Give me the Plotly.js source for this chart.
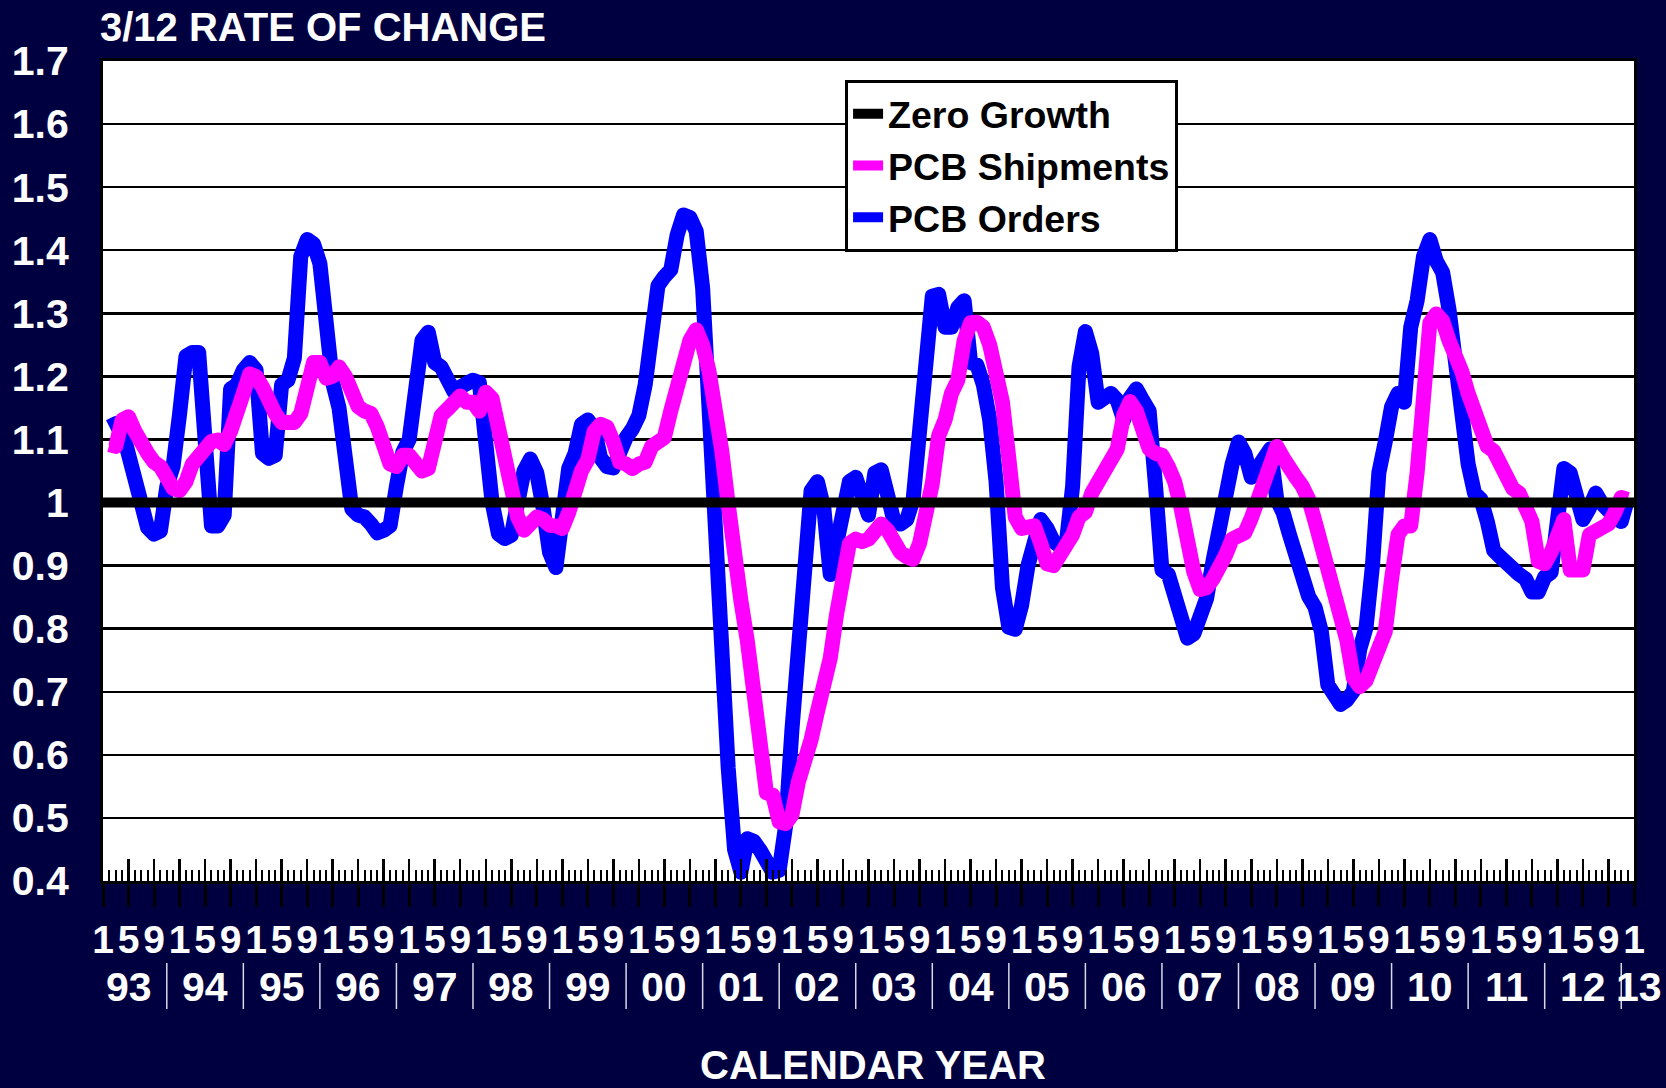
<!DOCTYPE html>
<html>
<head>
<meta charset="utf-8">
<script src="https://cdn.plot.ly/plotly-3.0.1.min.js"></script>
<style>
html, body { margin: 0; padding: 0; background: #000040; }
#chart { width: 1666px; height: 1088px; }
.scatterlayer .js-line { stroke-linejoin: round !important; }
</style>
</head>
<body>
<div id="chart"></div>
<script>
// Months are counted from January 1993 (= 0); the axis runs to January 2013 (= 240).
const FIRST_MONTH = 1;          // first data point: Feb 1993
const AXIS_END_MONTH = 240;     // Jan 2013
const MONTH_TICK_LABELS = ["1", "5", "9"];
const YEAR_LABELS = ["93","94","95","96","97","98","99","00","01","02","03","04","05","06","07","08","09","10","11","12","13"];
const Y_TICK_VALUES = [0.4, 0.5, 0.6, 0.7, 0.8, 0.9, 1.0, 1.1, 1.2, 1.3, 1.4, 1.5, 1.6, 1.7];
const Y_TICK_LABELS = ["0.4","0.5","0.6","0.7","0.8","0.9","1","1.1","1.2","1.3","1.4","1.5","1.6","1.7"];
const ZERO_GROWTH = 1;

const PCB_ORDERS = [
  1.12, 1.125, 1.115, 1.08, 1.04, 1.01, 0.96, 0.95, 0.955, 1.025, 1.058, 1.14,
  1.232, 1.238, 1.238, 1.10, 0.963, 0.963, 0.98, 1.18, 1.187, 1.21, 1.222, 1.21,
  1.078, 1.07, 1.075, 1.187, 1.194, 1.229, 1.39, 1.417, 1.41, 1.379, 1.27, 1.19,
  1.15, 1.07, 0.99, 0.98, 0.977, 0.966, 0.952, 0.956, 0.963, 1.026, 1.08, 1.10,
  1.20, 1.257, 1.27, 1.222, 1.215, 1.187, 1.176, 1.183, 1.187, 1.194, 1.19, 1.08,
  1.00, 0.95, 0.943, 0.948, 0.998, 1.05, 1.069, 1.047, 0.991, 0.921, 0.897, 0.99,
  1.054, 1.078, 1.124, 1.131, 1.117, 1.071, 1.057, 1.055, 1.089, 1.103, 1.117, 1.138,
  1.187, 1.292, 1.344, 1.358, 1.369, 1.424, 1.456, 1.452, 1.43, 1.34, 1.12, 0.90,
  0.74, 0.58, 0.45, 0.414, 0.467, 0.463, 0.449, 0.432, 0.414, 0.417, 0.487, 0.64,
  0.78, 0.956, 1.019, 1.033, 0.991, 0.886, 0.935, 0.991, 1.033, 1.04, 0.998, 0.98,
  1.047, 1.052, 1.012, 0.97, 0.966, 0.973, 1.005, 1.117, 1.278, 1.327, 1.33, 1.278,
  1.278, 1.309, 1.32, 1.222, 1.218, 1.187, 1.131, 1.033, 0.865, 0.802, 0.799, 0.837,
  0.90, 0.949, 0.973, 0.959, 0.938, 0.931, 0.935, 1.026, 1.215, 1.271, 1.236, 1.159,
  1.169, 1.173, 1.162, 1.131, 1.166, 1.18, 1.162, 1.145, 1.026, 0.893, 0.886, 0.844,
  0.809, 0.785, 0.792, 0.816, 0.848, 0.907, 0.963, 1.019, 1.061, 1.096, 1.078, 1.04,
  1.055, 1.08, 1.085, 1.005, 0.984, 0.949, 0.914, 0.879, 0.851, 0.834, 0.795, 0.711,
  0.69, 0.68, 0.687, 0.701, 0.767, 0.802, 0.90, 1.047, 1.096, 1.152, 1.173, 1.159,
  1.278, 1.32, 1.39, 1.417, 1.383, 1.365, 1.306, 1.215, 1.138, 1.061, 1.015, 1.005,
  0.97, 0.924, 0.914, 0.903, 0.90, 0.886, 0.879, 0.858, 0.858, 0.882, 0.889, 0.991,
  1.054, 1.047, 0.998, 0.973, 0.991, 1.015, 0.998, 0.984, 0.977, 0.97, 1.005
];

const PCB_SHIPMENTS = [
  1.092, 1.089, 1.131, 1.136, 1.113, 1.089, 1.078, 1.064, 1.057, 1.04, 1.022, 1.019,
  1.033, 1.061, 1.071, 1.089, 1.097, 1.099, 1.092, 1.113, 1.138, 1.173, 1.204, 1.2,
  1.183, 1.155, 1.141, 1.127, 1.124, 1.127, 1.141, 1.18, 1.222, 1.222, 1.197, 1.2,
  1.215, 1.2, 1.173, 1.152, 1.145, 1.141, 1.12, 1.085, 1.061, 1.057, 1.075, 1.075,
  1.061, 1.05, 1.054, 1.103, 1.138, 1.148, 1.155, 1.169, 1.159, 1.159, 1.145, 1.175,
  1.165, 1.11, 1.061, 1.012, 0.977, 0.956, 0.963, 0.977, 0.973, 0.964, 0.963, 0.959,
  0.984, 1.022, 1.05, 1.068, 1.113, 1.124, 1.12, 1.096, 1.064, 1.061, 1.054, 1.061,
  1.064, 1.089, 1.094, 1.103, 1.145, 1.187, 1.236, 1.257, 1.274, 1.25, 1.208, 1.152,
  1.082, 0.998, 0.907, 0.844, 0.781, 0.69, 0.6, 0.54, 0.536, 0.494, 0.491, 0.505,
  0.557, 0.585, 0.624, 0.669, 0.704, 0.753, 0.823, 0.893, 0.935, 0.942, 0.938, 0.942,
  0.955, 0.966, 0.956, 0.931, 0.921, 0.914, 0.91, 0.935, 0.975, 1.03, 1.106, 1.131,
  1.173, 1.194, 1.257, 1.285, 1.286, 1.278, 1.25, 1.208, 1.159, 1.07, 0.977, 0.959,
  0.959, 0.963, 0.935, 0.903, 0.9, 0.917, 0.931, 0.949, 0.977, 0.985, 1.015, 1.033,
  1.061, 1.075, 1.085, 1.138, 1.16, 1.145, 1.11, 1.085, 1.078, 1.075, 1.057, 1.033,
  0.991, 0.935, 0.89, 0.862, 0.865, 0.879, 0.893, 0.917, 0.942, 0.948, 0.952, 0.975,
  1.00, 1.03, 1.061, 1.089, 1.071, 1.05, 1.04, 1.026, 1.005, 0.97, 0.935, 0.9,
  0.858, 0.809, 0.781, 0.722, 0.708, 0.718, 0.746, 0.764, 0.795, 0.879, 0.949, 0.963,
  0.963, 1.047, 1.152, 1.285, 1.299, 1.288, 1.257, 1.236, 1.208, 1.173, 1.138, 1.103,
  1.089, 1.082, 1.061, 1.04, 1.022, 1.015, 0.991, 0.97, 0.907, 0.903, 0.921, 0.956,
  0.973, 0.893, 0.89, 0.893, 0.949, 0.956, 0.956, 0.966, 0.984, 1.008, 1.005
];

// ---- derived helpers ----
const months = PCB_ORDERS.map((_, i) => FIRST_MONTH + i);
const monthTickVals = [];
const monthTickText = [];
for (let m = 0, k = 0; m <= AXIS_END_MONTH; m += 4, k++) {
  monthTickVals.push(m);
  monthTickText.push(MONTH_TICK_LABELS[k % MONTH_TICK_LABELS.length]);
}

const FONT = 'Liberation Sans, Arial, Helvetica, sans-serif';
const PLOT_TOP = 61, PLOT_BOTTOM = 881, PLOT_H = PLOT_BOTTOM - PLOT_TOP;
const paperY = px => (PLOT_BOTTOM - px) / PLOT_H;

const traces = [
  {
    name: 'PCB Orders', x: months, y: PCB_ORDERS, type: 'scatter', mode: 'lines',
    line: { color: '#0000ff', width: 15 }, legendrank: 3, xaxis: 'x', yaxis: 'y',
    hoverinfo: 'skip'
  },
  {
    name: 'PCB Shipments', x: months.slice(0, PCB_SHIPMENTS.length), y: PCB_SHIPMENTS, type: 'scatter', mode: 'lines',
    line: { color: '#ff00ff', width: 15 }, legendrank: 2, xaxis: 'x', yaxis: 'y',
    hoverinfo: 'skip'
  },
  {
    name: 'Zero Growth', x: [0, AXIS_END_MONTH], y: [ZERO_GROWTH, ZERO_GROWTH], type: 'scatter', mode: 'lines',
    line: { color: '#000000', width: 10 }, legendrank: 1, xaxis: 'x2', yaxis: 'y',
    hoverinfo: 'skip'
  }
];

const annotations = YEAR_LABELS.map((lab, i) => {
  const pos = Math.min(i * 12 + 4, AXIS_END_MONTH);
  return {
    text: '<b>' + lab + '</b>', x: pos, xref: 'x', y: paperY(987), yref: 'paper',
    xanchor: 'center', yanchor: 'middle', showarrow: false,
    xshift: (i * 12 + 4 > AXIS_END_MONTH) ? 5 : 0,
    font: { family: FONT, size: 41, color: '#ffffff' }
  };
});
annotations.push({
  text: '<b>CALENDAR YEAR</b>', x: 0.503, xref: 'paper', y: paperY(1065), yref: 'paper',
  xanchor: 'center', yanchor: 'middle', showarrow: false,
  font: { family: FONT, size: 40, color: '#ffffff' }
});

const shapes = YEAR_LABELS.slice(0, -1).map((_, i) => ({
  type: 'line', xref: 'x', yref: 'paper',
  x0: i * 12 + 10, x1: i * 12 + 10, y0: paperY(963), y1: paperY(1009),
  line: { color: '#d8d8e8', width: 1.5 }
}));

const layout = {
  width: 1666, height: 1088,
  paper_bgcolor: '#000040', plot_bgcolor: '#ffffff',
  margin: { l: 103, r: 32, t: PLOT_TOP, b: 1088 - PLOT_BOTTOM, pad: 0 },
  font: { family: FONT, color: '#ffffff' },
  title: {
    text: '<b>3/12 RATE OF CHANGE</b>', xref: 'container', yref: 'container',
    x: 100 / 1666, xanchor: 'left', y: 1 - 27 / 1088, yanchor: 'middle',
    font: { family: FONT, size: 40, color: '#ffffff' }
  },
  showlegend: true,
  legend: {
    x: 0.4847, y: 0.977, xanchor: 'left', yanchor: 'top',
    bgcolor: '#ffffff', bordercolor: '#000000', borderwidth: 3,
    font: { family: FONT, size: 37.5, color: '#000000', weight: 'bold' },
    traceorder: 'normal', itemwidth: 30
  },
  xaxis: {
    range: [0, AXIS_END_MONTH], tickmode: 'array', tickvals: monthTickVals, ticktext: monthTickText,
    ticks: 'inside', ticklen: 22, tickwidth: 2.5, tickcolor: '#000000',
    showgrid: false, zeroline: false, showline: true, linecolor: '#000000', linewidth: 3, mirror: true,
    tickfont: { family: FONT, size: 39, color: '#ffffff', weight: 'bold' }, ticklabelstandoff: 22,
    minor: { ticks: 'inside', tickmode: 'linear', tick0: 0, dtick: 1, ticklen: 11, tickwidth: 2, tickcolor: '#000000', showgrid: false },
    fixedrange: true
  },
  xaxis2: {
    overlaying: 'x', matches: 'x', anchor: 'y', side: 'bottom', range: [0, AXIS_END_MONTH],
    tickmode: 'array', tickvals: monthTickVals, showticklabels: false,
    ticks: 'outside', ticklen: 25, tickwidth: 3, tickcolor: '#000000',
    showgrid: false, zeroline: false, showline: false, fixedrange: true
  },
  yaxis: {
    range: [0.4, 1.7], tickmode: 'array', tickvals: Y_TICK_VALUES, ticktext: Y_TICK_LABELS,
    ticks: '', showgrid: true, gridcolor: '#000000', gridwidth: 2.5,
    zeroline: false, showline: true, linecolor: '#000000', linewidth: 3, mirror: true,
    tickfont: { family: FONT, size: 41, color: '#ffffff', weight: 'bold' }, ticklabelstandoff: 23,
    fixedrange: true
  },
  annotations: annotations,
  shapes: shapes
};

Plotly.newPlot('chart', traces, layout, { staticPlot: true, displayModeBar: false });
</script>
</body>
</html>
